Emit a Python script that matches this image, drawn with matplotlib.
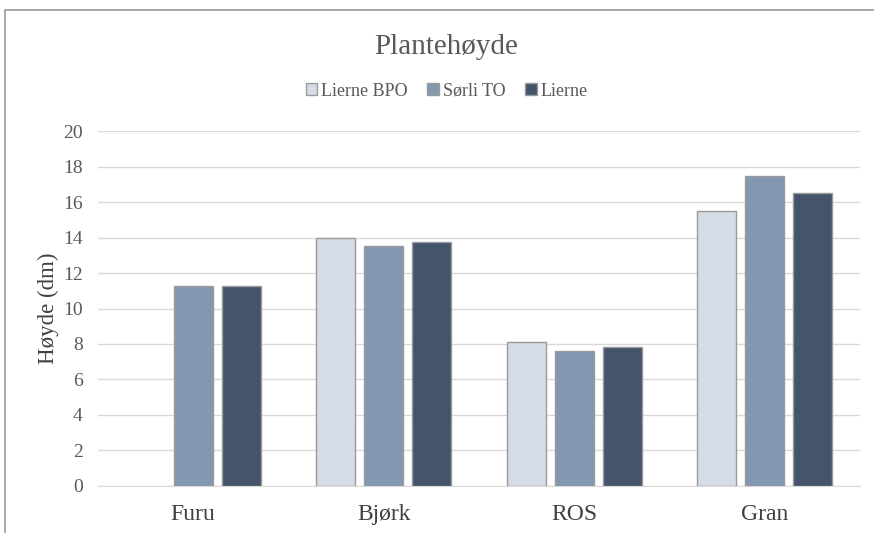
import numpy as np
import matplotlib.pyplot as plt
from matplotlib.patches import Rectangle

plt.rcParams['font.family'] = ['Liberation Serif', 'DejaVu Serif']

categories = ["Furu", "Bjørk", "ROS", "Gran"]
series_names = ["Lierne BPO", "Sørli TO", "Lierne"]
lierne_bpo = [np.nan, 13.95, 8.1, 15.5]
sorli_to = [11.25, 13.5, 7.6, 17.45]
lierne = [11.25, 13.75, 7.82, 16.5]
colors = ["#D5DCE6", "#8497B0", "#44546A"]
yticks = list(range(0, 21, 2))

fig = plt.figure(figsize=(8.74, 5.33), dpi=100)
ax = fig.add_axes([0.112, 0.0882, 0.872, 0.666])

# outer chart frame (top and left visible in the screenshot)
fig.patches.append(Rectangle((5 / 874, -0.1), 1.2, 1.1 - 10 / 533,
                             transform=fig.transFigure, fill=False,
                             edgecolor="#9a9a9a", linewidth=1.2))

x = np.arange(len(categories))
width = 0.205
step = 0.252
for i, (vals, name) in enumerate(zip([lierne_bpo, sorli_to, lierne], series_names)):
    ax.bar(x + (i - 1) * step, vals, width, color=colors[i], edgecolor="#9a9a9a",
           linewidth=1.0, label=name, zorder=3)

ax.set_xlim(-0.5, len(categories) - 0.5)
ax.set_ylim(0, 20)
ax.set_yticks(yticks)
ax.set_yticklabels([str(t) for t in yticks], fontsize=14, color="#595959")
ax.set_xticks(x)
ax.set_xticklabels(categories, fontsize=17, color="#404040")
ax.tick_params(axis="both", length=0)
ax.tick_params(axis="x", pad=13)
ax.tick_params(axis="y", pad=11)
ax.grid(axis="y", color="#d9d9d9", linewidth=1.0, zorder=0)
for s in ["top", "right", "left"]:
    ax.spines[s].set_visible(False)
ax.spines["bottom"].set_color("#d9d9d9")
ax.set_ylabel("Høyde (dm)", fontsize=16.5, color="#404040", labelpad=3)

fig.text(0.51, 0.912, "Plantehøyde", ha="center", va="center", fontsize=21, color="#595959")
fig.legend(loc="center", bbox_to_anchor=(0.511, 0.829), ncol=3, frameon=False,
           fontsize=13, handlelength=0.65, handleheight=0.65, handletextpad=0.2,
           columnspacing=1.1, labelcolor="#595959")

fig.savefig("out.png", dpi=100)
